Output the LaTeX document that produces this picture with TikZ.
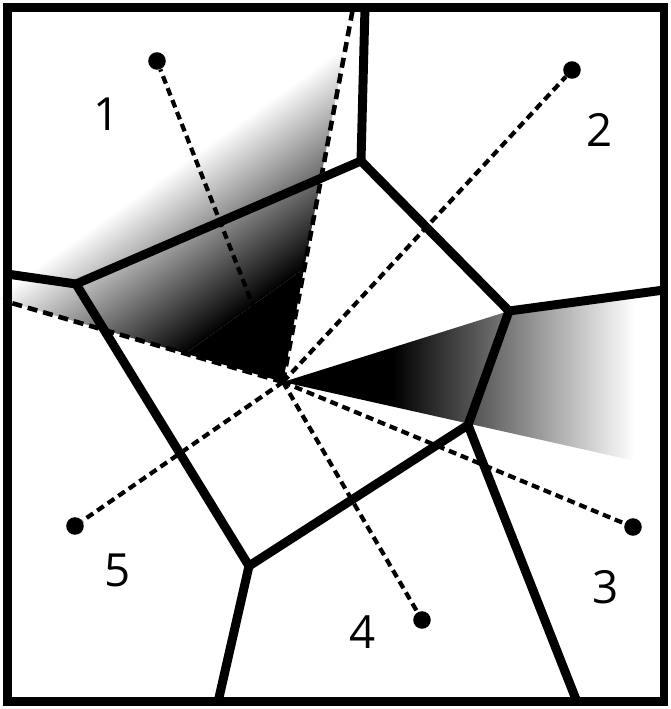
\documentclass[tikz,border=0pt]{standalone}
\usepackage{fontspec}
\setmainfont{Open Sans}
\definecolor{gradmid}{RGB}{112,84,84}

\begin{document}
\begin{tikzpicture}[
    x=0.02cm, y=-0.02cm,
    site/.style={circle, fill=black, inner sep=0pt, minimum size=10pt},
    celledge/.style={line width=5.1pt, line join=miter},
    ray/.style={line width=2.4pt, dash pattern=on 4.5pt off 2.8pt},
    guide/.style={line width=2.6pt, dash pattern=on 5.7pt off 3.4pt},
    lbl/.style={font=\fontsize{26pt}{30pt}\selectfont, inner sep=0pt}
]
    \useasboundingbox (0,0) rectangle (671,709);

    % centre and voronoi vertices
    \coordinate (c) at (283,382);
    \coordinate (va) at (76,284);
    \coordinate (vb) at (361,161);
    \coordinate (vc) at (509,311);
    \coordinate (vd) at (468,425);
    \coordinate (ve) at (249,566);
    \coordinate (ba) at (7,274);
    \coordinate (bb) at (365,7);
    \coordinate (bc) at (664,290);
    \coordinate (bd) at (577,702);
    \coordinate (be) at (218,702);
    \coordinate (gt) at (353,8);
    \coordinate (gl) at (8,302);

    % shaded wedges
    \begin{scope}
        \clip (c) -- (354,0) -- (0,0) -- (0,299.5) -- cycle;
        \begin{scope}[transform canvas={rotate around={125.6:(c)}}]
            \fill[black] (233,82) rectangle (363,682);
            \shade[left color=black, middle color=gradmid, right color=white] (363,82) rectangle (520,682);
        \end{scope}
    \end{scope}
    \begin{scope}
        \clip (c) -- (vc) -- (bc) -- (671,469) -- cycle;
        \fill[black] (270,250) rectangle (393,500);
        \shade[left color=black, middle color=gradmid, right color=white] (393,250) rectangle (635,500);
    \end{scope}

    % sites
    \node[site] (s1) at (157,61) {};
    \node[site] (s2) at (572,70) {};
    \node[site] (s3) at (633,527) {};
    \node[site] (s4) at (422,620) {};
    \node[site] (s5) at (75,526) {};

    % dashed rays
    \foreach \s in {s1,s2,s3,s4,s5}
        \draw[ray] (c) -- (\s);
    \draw[guide] (c) -- (gt);
    \draw[guide] (c) -- (gl);

    % voronoi cells
    \draw[celledge] (va) -- (vb) -- (vc) -- (vd) -- (ve) -- cycle;
    \draw[celledge] (va) -- (ba);
    \draw[celledge] (vb) -- (bb);
    \draw[celledge] (vc) -- (bc);
    \draw[celledge] (vd) -- (bd);
    \draw[celledge] (ve) -- (be);

    % frame
    \draw[line width=4.8pt] (7.5,7.5) rectangle (664,701.5);

    \node[lbl] (l1) at (107,114) {1};
    \node[lbl] (l2) at (600,130) {2};
    \node[lbl] (l3) at (606,587) {3};
    \node[lbl] (l4) at (363,632) {4};
    \node[lbl] (l5) at (118,570) {5};
\end{tikzpicture}
\end{document}
